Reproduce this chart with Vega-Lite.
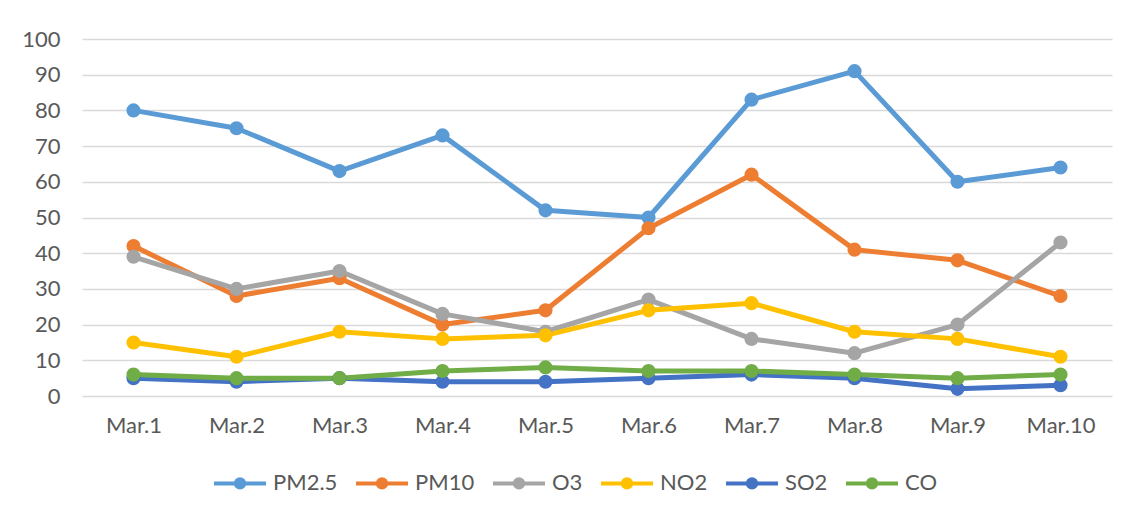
{
  "$schema": "https://vega.github.io/schema/vega-lite/v6.json",
  "width": 1030,
  "height": 357,
  "autosize": {"type": "none"},
  "padding": {"left": 82, "top": 39, "right": 26, "bottom": 119},
  "background": "white",
  "config": {
    "view": {"stroke": null},
    "font": "Lato",
    "axis": {"labelFont": "Lato", "labelFontSize": 22, "labelColor": "#595959", "gridColor": "#D9D9D9", "gridWidth": 1.5, "ticks": false, "domain": false, "title": null},
    "legend": {"labelFont": "Lato", "labelFontSize": 22, "labelColor": "#595959"}
  },
  "data": {"values": [
    {"day": "Mar.1", "s": "PM2.5", "v": 80}, {"day": "Mar.2", "s": "PM2.5", "v": 75}, {"day": "Mar.3", "s": "PM2.5", "v": 63}, {"day": "Mar.4", "s": "PM2.5", "v": 73}, {"day": "Mar.5", "s": "PM2.5", "v": 52},
    {"day": "Mar.6", "s": "PM2.5", "v": 50}, {"day": "Mar.7", "s": "PM2.5", "v": 83}, {"day": "Mar.8", "s": "PM2.5", "v": 91}, {"day": "Mar.9", "s": "PM2.5", "v": 60}, {"day": "Mar.10", "s": "PM2.5", "v": 64},
    {"day": "Mar.1", "s": "PM10", "v": 42}, {"day": "Mar.2", "s": "PM10", "v": 28}, {"day": "Mar.3", "s": "PM10", "v": 33}, {"day": "Mar.4", "s": "PM10", "v": 20}, {"day": "Mar.5", "s": "PM10", "v": 24},
    {"day": "Mar.6", "s": "PM10", "v": 47}, {"day": "Mar.7", "s": "PM10", "v": 62}, {"day": "Mar.8", "s": "PM10", "v": 41}, {"day": "Mar.9", "s": "PM10", "v": 38}, {"day": "Mar.10", "s": "PM10", "v": 28},
    {"day": "Mar.1", "s": "O3", "v": 39}, {"day": "Mar.2", "s": "O3", "v": 30}, {"day": "Mar.3", "s": "O3", "v": 35}, {"day": "Mar.4", "s": "O3", "v": 23}, {"day": "Mar.5", "s": "O3", "v": 18},
    {"day": "Mar.6", "s": "O3", "v": 27}, {"day": "Mar.7", "s": "O3", "v": 16}, {"day": "Mar.8", "s": "O3", "v": 12}, {"day": "Mar.9", "s": "O3", "v": 20}, {"day": "Mar.10", "s": "O3", "v": 43},
    {"day": "Mar.1", "s": "NO2", "v": 15}, {"day": "Mar.2", "s": "NO2", "v": 11}, {"day": "Mar.3", "s": "NO2", "v": 18}, {"day": "Mar.4", "s": "NO2", "v": 16}, {"day": "Mar.5", "s": "NO2", "v": 17},
    {"day": "Mar.6", "s": "NO2", "v": 24}, {"day": "Mar.7", "s": "NO2", "v": 26}, {"day": "Mar.8", "s": "NO2", "v": 18}, {"day": "Mar.9", "s": "NO2", "v": 16}, {"day": "Mar.10", "s": "NO2", "v": 11},
    {"day": "Mar.1", "s": "SO2", "v": 5}, {"day": "Mar.2", "s": "SO2", "v": 4}, {"day": "Mar.3", "s": "SO2", "v": 5}, {"day": "Mar.4", "s": "SO2", "v": 4}, {"day": "Mar.5", "s": "SO2", "v": 4},
    {"day": "Mar.6", "s": "SO2", "v": 5}, {"day": "Mar.7", "s": "SO2", "v": 6}, {"day": "Mar.8", "s": "SO2", "v": 5}, {"day": "Mar.9", "s": "SO2", "v": 2}, {"day": "Mar.10", "s": "SO2", "v": 3},
    {"day": "Mar.1", "s": "CO", "v": 6}, {"day": "Mar.2", "s": "CO", "v": 5}, {"day": "Mar.3", "s": "CO", "v": 5}, {"day": "Mar.4", "s": "CO", "v": 7}, {"day": "Mar.5", "s": "CO", "v": 8},
    {"day": "Mar.6", "s": "CO", "v": 7}, {"day": "Mar.7", "s": "CO", "v": 7}, {"day": "Mar.8", "s": "CO", "v": 6}, {"day": "Mar.9", "s": "CO", "v": 5}, {"day": "Mar.10", "s": "CO", "v": 6}
  ]},
  "encoding": {
    "x": {"field": "day", "type": "nominal", "sort": null, "scale": {"type": "point", "padding": 0.5},
      "axis": {"labelAngle": 0, "labelPadding": 19, "grid": false}},
    "y": {"field": "v", "type": "quantitative", "scale": {"domain": [0, 100], "nice": false},
      "axis": {"values": [0, 10, 20, 30, 40, 50, 60, 70, 80, 90, 100], "labelPadding": 22, "grid": true}},
    "color": {"field": "s", "type": "nominal",
      "scale": {"domain": ["PM2.5", "PM10", "O3", "NO2", "SO2", "CO"], "range": ["#5B9BD5", "#ED7D31", "#A5A5A5", "#FFC000", "#4472C4", "#70AD47"]},
      "legend": {"title": null, "orient": "none", "direction": "horizontal", "legendX": 130, "legendY": 416, "padding": 0,
        "symbolSize": 2704, "symbolStrokeWidth": 4, "labelOffset": 5, "columnPadding": 10,
        "symbolType": "M-1,0H1M-0.16,0A0.16,0.16,0,1,1,0.16,0A0.16,0.16,0,1,1,-0.16,0Z",
        "encode": {"symbols": {"update": {"fill": {"scale": "color", "field": "value"}, "stroke": {"scale": "color", "field": "value"}, "strokeWidth": {"value": 4}, "opacity": {"value": 1}}}}}
    }
  },
  "layer": [
    {"mark": {"type": "line", "strokeWidth": 5, "strokeCap": "round", "strokeJoin": "round"}},
    {"mark": {"type": "point", "filled": true, "size": 200, "opacity": 1, "shape": "circle"}}
  ]
}
